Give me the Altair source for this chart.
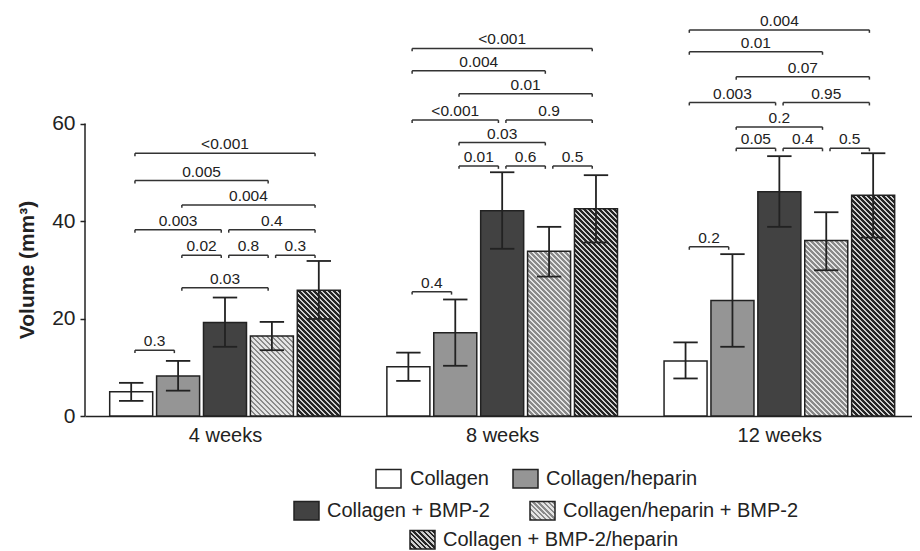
import altair as alt
import pandas as pd

# ---------------- data ----------------
GROUPS = ["4 weeks", "8 weeks", "12 weeks"]
SERIES = ["Collagen", "Collagen/heparin", "Collagen + BMP-2",
          "Collagen/heparin + BMP-2", "Collagen + BMP-2/heparin"]
MEAN = [[5.0, 10.1, 11.3],
        [8.2, 17.1, 23.7],
        [19.2, 42.1, 46.0],
        [16.4, 33.8, 36.0],
        [25.8, 42.5, 45.3]]
ERR_HI = [[6.8, 13.0, 15.1],
          [11.3, 23.9, 33.2],
          [24.3, 50.0, 53.3],
          [19.3, 38.8, 41.8],
          [31.8, 49.4, 53.9]]
ERR_LO = [[3.1, 7.2, 7.7],
          [5.2, 10.3, 14.2],
          [14.2, 34.3, 38.8],
          [13.5, 28.6, 29.9],
          [19.9, 35.6, 36.6]]
Y_TICKS = [0, 20, 40, 60]
Y_TITLE = "Volume (mm³)"

# significance brackets: group, from-bar, to-bar, height, p-value
BR_GROUP = [0] * 10 + [1] * 10 + [2] * 10
BR_FROM = [0, 0, 1, 0, 2, 1, 2, 3, 1, 0,
           0, 0, 1, 0, 2, 1, 2, 3, 1, 0,
           0, 0, 1, 0, 2, 1, 2, 3, 1, 0]
BR_TO = [4, 3, 4, 2, 4, 2, 3, 4, 3, 1,
         4, 3, 4, 2, 4, 2, 3, 4, 3, 1,
         4, 3, 4, 2, 4, 2, 3, 4, 3, 1]
BR_Y = [53.9, 48.3, 43.3, 38.2, 38.2, 33.0, 33.0, 33.0, 26.3, 13.5,
        75.4, 70.8, 66.1, 60.7, 60.7, 51.3, 51.3, 51.3, 56.1, 25.5,
        79.2, 74.7, 69.6, 64.3, 64.3, 54.9, 54.9, 54.9, 59.3, 34.7]
BR_LABEL = ["<0.001", "0.005", "0.004", "0.003", "0.4", "0.02", "0.8", "0.3", "0.03", "0.3",
            "<0.001", "0.004", "0.01", "<0.001", "0.9", "0.01", "0.6", "0.5", "0.03", "0.4",
            "0.004", "0.01", "0.07", "0.003", "0.95", "0.05", "0.4", "0.5", "0.2", "0.2"]

# ---------------- layout / style ----------------
FONT = "Liberation Sans"
INK = "#222222"
PLOT_W, PLOT_H = 827, 406
X_PX = 46.9
X_MIN = -2.985
X_MAX = X_MIN + PLOT_W / X_PX
Y_PX = 4.875
Y_MAX = PLOT_H / Y_PX
GROUP_STEP = 5.91
BAR_W = 0.917
CAP_W = 0.52
INSET = 0.08
TICK_DROP = 0.6


def cx(g, i):
    return g * GROUP_STEP + (i - 2)


def hatch(w, h, dark, light, period=5.0, duty=0.5):
    L = w + h
    s = L / (w * w + h * h)
    stops = []
    k = 0
    while k * period < L:
        a = k * period / L
        b = min((k * period + duty * period) / L, 1.0)
        c = min((k + 1) * period / L, 1.0)
        stops += [{"offset": round(a, 5), "color": dark},
                  {"offset": round(b, 5), "color": dark},
                  {"offset": round(b, 5), "color": light},
                  {"offset": round(c, 5), "color": light}]
        k += 1
    return {"gradient": "linear", "x1": 0, "y1": 1,
            "x2": round(s * w, 5), "y2": round(1 - s * h, 5), "stops": stops}


def fill_for(series, w, h):
    if series == 0:
        return "#ffffff"
    if series == 1:
        return "#959595"
    if series == 2:
        return "#424242"
    if series == 3:
        return hatch(w, h, "#8a8a8a", "#e4e4e4")
    return hatch(w, h, "#262626", "#cfcfcf", duty=0.55)


xs = alt.Scale(domain=[X_MIN, X_MAX], nice=False, zero=False)
ys = alt.Scale(domain=[0, Y_MAX], nice=False, zero=False)
label_expr = (f"datum.value < {GROUP_STEP / 2} ? '{GROUPS[0]}' : "
              f"datum.value < {GROUP_STEP * 1.5} ? '{GROUPS[1]}' : '{GROUPS[2]}'")
xa = alt.Axis(values=[cx(g, 2) for g in range(len(GROUPS))], labelExpr=label_expr,
              ticks=False, grid=False, domainColor=INK, domainWidth=1.5,
              labelFont=FONT, labelFontSize=20, labelColor=INK, labelPadding=9,
              title=None)
ya = alt.Axis(values=Y_TICKS, domain=False, grid=False, tickSize=5, tickWidth=1.5,
              tickColor=INK, labelFont=FONT, labelFontSize=21, labelColor=INK,
              labelPadding=5, title=None)


def X(f):
    return alt.X(f, type="quantitative", scale=xs, axis=xa)


def Y(f):
    return alt.Y(f, type="quantitative", scale=ys, axis=ya)


# bar table
rows = []
for s in range(len(SERIES)):
    for g in range(len(GROUPS)):
        c = cx(g, s)
        rows.append({"key": f"{s}-{g}", "series": s, "group": g, "cx": c,
                     "x0": c - BAR_W / 2, "x1": c + BAR_W / 2, "base": 0.0,
                     "mean": MEAN[s][g], "elo": ERR_LO[s][g], "ehi": ERR_HI[s][g],
                     "c0": c - CAP_W / 2, "c1": c + CAP_W / 2})
bars = pd.DataFrame(rows)

layers = []
for r in rows:
    f = fill_for(r["series"], BAR_W * X_PX, r["mean"] * Y_PX)
    layers.append(
        alt.Chart(bars).transform_filter(alt.datum.key == r["key"])
        .mark_rect(fill=f, stroke=INK, strokeWidth=1.5)
        .encode(x=X("x0"), x2="x1", y=Y("base"), y2="mean")
    )

# error bars
layers.append(alt.Chart(bars).mark_rule(color=INK, strokeWidth=1.8)
              .encode(x=X("cx"), y=Y("elo"), y2="ehi"))
layers.append(alt.Chart(bars).mark_rule(color=INK, strokeWidth=1.8)
              .encode(x=X("c0"), x2="c1", y=Y("ehi")))
layers.append(alt.Chart(bars).mark_rule(color=INK, strokeWidth=1.8)
              .encode(x=X("c0"), x2="c1", y=Y("elo")))

# brackets
br_rows = []
for g, a, b, y, lab in zip(BR_GROUP, BR_FROM, BR_TO, BR_Y, BR_LABEL):
    xa_ = cx(g, a) + INSET
    xb_ = cx(g, b) - INSET
    br_rows.append({"xa": xa_, "xb": xb_, "xm": (xa_ + xb_) / 2, "y": y,
                    "yt": y - TICK_DROP, "label": lab})
br = pd.DataFrame(br_rows)
layers.append(alt.Chart(br).mark_rule(color="#333333", strokeWidth=1.5)
              .encode(x=X("xa"), x2="xb", y=Y("y")))
layers.append(alt.Chart(br).mark_rule(color="#333333", strokeWidth=1.5)
              .encode(x=X("xa"), y=Y("y"), y2="yt"))
layers.append(alt.Chart(br).mark_rule(color="#333333", strokeWidth=1.5)
              .encode(x=X("xb"), y=Y("y"), y2="yt"))
layers.append(alt.Chart(br).mark_text(baseline="alphabetic", dy=-4, font=FONT,
                                      fontSize=15.5, color=INK)
              .encode(x=X("xm"), y=Y("y"), text="label:N"))

# y axis line (0 to 60 only)
axis_df = pd.DataFrame({"lo": [min(Y_TICKS)], "hi": [max(Y_TICKS)]})
layers.append(alt.Chart(axis_df).mark_rule(color=INK, strokeWidth=1.5)
              .encode(x=alt.value(0), y=Y("lo"), y2="hi"))

# y title
one = pd.DataFrame({"a": [0]})
layers.append(alt.Chart(one).mark_text(text=Y_TITLE, angle=270, font=FONT, fontSize=21,
                                       fontWeight="bold", color=INK, align="center",
                                       baseline="middle")
              .encode(x=alt.value(-57), y=alt.value(260)))

# legend (manual layout)
LEG = [(0, 291, 325, 475), (1, 428, 461, 475), (2, 209, 242, 507),
       (3, 445, 478, 507), (4, 325, 358, 536)]
SW_W, SW_H = 25, 18.5
for s, sx, tx, by in LEG:
    f = fill_for(s, SW_W, SW_H)
    layers.append(alt.Chart(one).mark_rect(fill=f, stroke=INK, strokeWidth=1.5)
                  .encode(x=alt.value(sx), x2=alt.value(sx + SW_W),
                          y=alt.value(by - 15.5), y2=alt.value(by + 3)))
    layers.append(alt.Chart(one).mark_text(text=SERIES[s], font=FONT, fontSize=20,
                                           color=INK, align="left",
                                           baseline="alphabetic")
                  .encode(x=alt.value(tx), y=alt.value(by)))

chart = (alt.layer(*layers)
         .properties(width=PLOT_W, height=PLOT_H,
                     autosize=alt.AutoSizeParams(type="none"),
                     padding={"left": 77, "top": 2, "right": 0, "bottom": 135})
         .configure_view(stroke=None))

chart.save("out.html", embed_options={"renderer": "svg", "actions": False})
